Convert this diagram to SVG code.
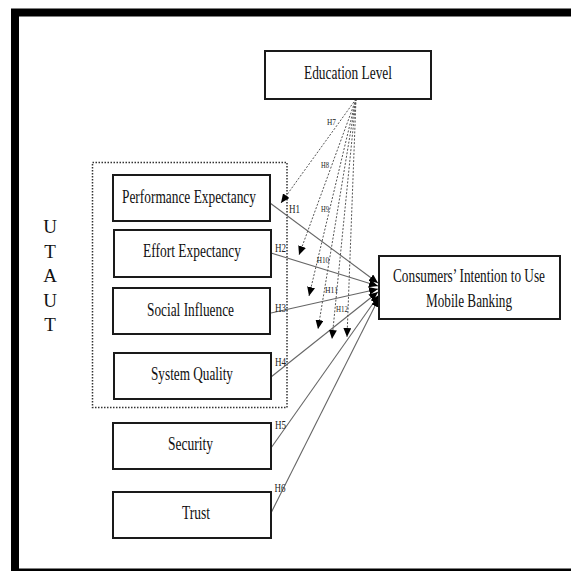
<svg xmlns="http://www.w3.org/2000/svg" width="571" height="571" viewBox="0 0 571 571">
  <style>
    .box { fill: #ffffff; stroke: #1a1a1a; stroke-width: 2; }
    .lbl { font-family: "Liberation Serif", "Times New Roman", serif; font-size: 19px; fill: #111; text-anchor: middle; }
    .h { font-family: "Liberation Serif", "Times New Roman", serif; fill: #222; text-anchor: middle; }
    .solid { stroke: #666; stroke-width: 1.1; fill: none; marker-end: url(#arr); }
    .dash { stroke: #555; stroke-width: 1; stroke-dasharray: 2 1.6; fill: none; marker-end: url(#arr); }
  </style>
  <defs>
    <marker id="arr" markerUnits="userSpaceOnUse" markerWidth="10" markerHeight="8" refX="9" refY="4" orient="auto">
      <path d="M0,0 L9,4 L0,8 Z" fill="#000"/>
    </marker>
  </defs>
  <rect x="0" y="0" width="571" height="571" fill="#ffffff"/>
  <rect x="15" y="12.5" width="600" height="560" fill="none" stroke="#000" stroke-width="8"/>

  <g id="utaut-group">
    <rect x="92.5" y="162.5" width="194.5" height="245" fill="none" stroke="#333" stroke-width="1.5" stroke-dasharray="1.5 1.5"/>
    <g class="lbl" font-size="19">
      <text x="50" y="233">U</text>
      <text x="50" y="257.5">T</text>
      <text x="50" y="282">A</text>
      <text x="50" y="306.5">U</text>
      <text x="50" y="331">T</text>
    </g>
  </g>

  <g id="connectors">
    <line class="solid" x1="270" y1="203" x2="378" y2="283"/>
    <line class="solid" x1="271" y1="253" x2="378" y2="286"/>
    <line class="solid" x1="271" y1="313" x2="378" y2="289"/>
    <line class="solid" x1="271" y1="377" x2="378" y2="292"/>
    <line class="solid" x1="271" y1="448" x2="379" y2="295"/>
    <line class="solid" x1="271" y1="513" x2="379" y2="298"/>
    <line class="dash" x1="356" y1="99" x2="281" y2="203"/>
    <line class="dash" x1="356" y1="99" x2="299" y2="255"/>
    <line class="dash" x1="356" y1="99" x2="309" y2="296"/>
    <line class="dash" x1="356" y1="99" x2="318" y2="329"/>
    <line class="dash" x1="356" y1="99" x2="332" y2="339"/>
    <line class="dash" x1="356" y1="99" x2="347" y2="337"/>
    <g class="h">
      <text x="294.5" y="213" font-size="12" textLength="11" lengthAdjust="spacingAndGlyphs">H1</text>
      <text x="280.5" y="251.5" font-size="12" textLength="11" lengthAdjust="spacingAndGlyphs">H2</text>
      <text x="280.5" y="311.5" font-size="12" textLength="11" lengthAdjust="spacingAndGlyphs">H3</text>
      <text x="280.5" y="366" font-size="12" textLength="11" lengthAdjust="spacingAndGlyphs">H4</text>
      <text x="280.5" y="429" font-size="12" textLength="11" lengthAdjust="spacingAndGlyphs">H5</text>
      <text x="280" y="492" font-size="12" textLength="11" lengthAdjust="spacingAndGlyphs">H6</text>
      <text x="331.5" y="125" font-size="9" textLength="9" lengthAdjust="spacingAndGlyphs">H7</text>
      <text x="325" y="167.5" font-size="9" textLength="8" lengthAdjust="spacingAndGlyphs">H8</text>
      <text x="325" y="212" font-size="9" textLength="8" lengthAdjust="spacingAndGlyphs">H9</text>
      <text x="323" y="263" font-size="9" textLength="12.5" lengthAdjust="spacingAndGlyphs">H10</text>
      <text x="331.5" y="293" font-size="9" textLength="13" lengthAdjust="spacingAndGlyphs">H11</text>
      <text x="342" y="311.5" font-size="9" textLength="12" lengthAdjust="spacingAndGlyphs">H12</text>
    </g>
  </g>

  <g id="education-level">
    <rect class="box" x="265" y="51" width="166" height="48"/>
    <text class="lbl" x="348" y="79" textLength="88" lengthAdjust="spacingAndGlyphs">Education Level</text>
  </g>
  <g id="performance-expectancy">
    <rect class="box" x="113" y="175" width="157" height="46"/>
    <text class="lbl" x="189" y="203" textLength="134" lengthAdjust="spacingAndGlyphs">Performance Expectancy</text>
  </g>
  <g id="effort-expectancy">
    <rect class="box" x="114" y="230" width="157" height="47"/>
    <text class="lbl" x="192" y="257" textLength="98" lengthAdjust="spacingAndGlyphs">Effort Expectancy</text>
  </g>
  <g id="social-influence">
    <rect class="box" x="113" y="288" width="157" height="46"/>
    <text class="lbl" x="190.5" y="316" textLength="87" lengthAdjust="spacingAndGlyphs">Social Influence</text>
  </g>
  <g id="system-quality">
    <rect class="box" x="114" y="353" width="157" height="46"/>
    <text class="lbl" x="192" y="380" textLength="82" lengthAdjust="spacingAndGlyphs">System Quality</text>
  </g>
  <g id="security">
    <rect class="box" x="113" y="423" width="158" height="46"/>
    <text class="lbl" x="190.5" y="450" textLength="45" lengthAdjust="spacingAndGlyphs">Security</text>
  </g>
  <g id="trust">
    <rect class="box" x="113" y="492" width="158" height="46"/>
    <text class="lbl" x="196" y="519" textLength="28" lengthAdjust="spacingAndGlyphs">Trust</text>
  </g>
  <g id="intention">
    <rect class="box" x="379" y="256" width="181" height="63"/>
    <text class="lbl" x="469" y="282" textLength="152" lengthAdjust="spacingAndGlyphs">Consumers’ Intention to Use</text>
    <text class="lbl" x="469" y="306.5" textLength="86" lengthAdjust="spacingAndGlyphs">Mobile Banking</text>
  </g>
</svg>
